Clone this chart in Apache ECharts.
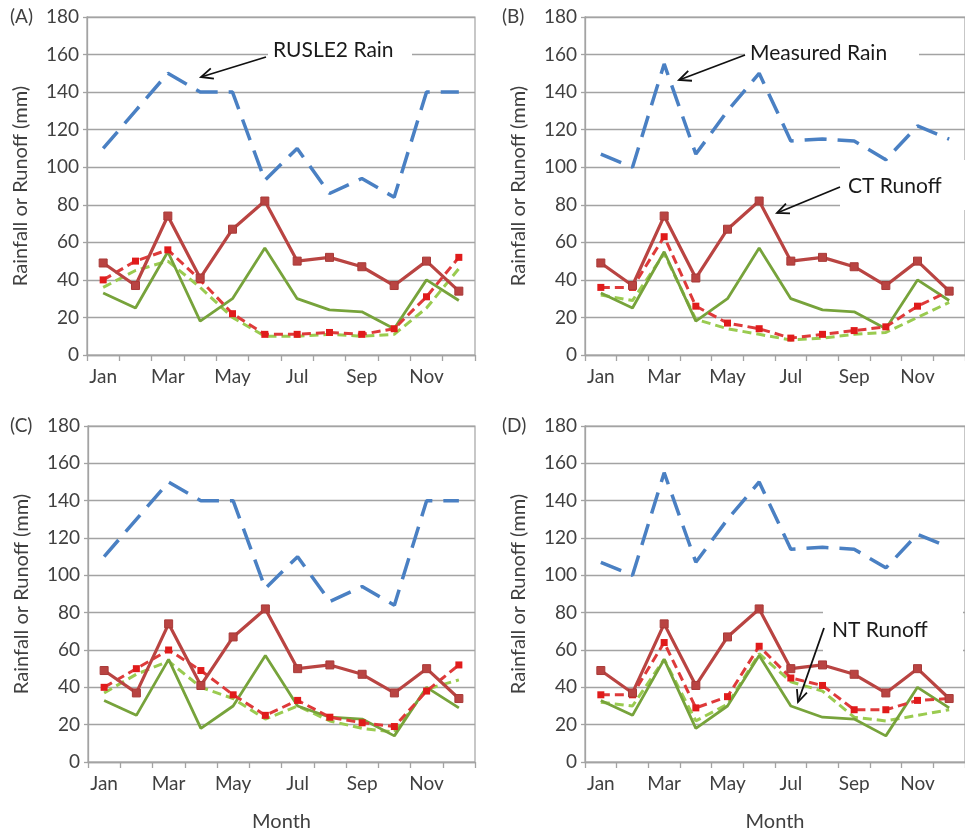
<!DOCTYPE html>
<html>
<head>
<meta charset="utf-8">
<script src="https://cdn.jsdelivr.net/npm/echarts@6/dist/echarts.min.js"></script>
<style>
  html, body { margin: 0; padding: 0; background: #ffffff; }
  #chart { width: 965px; height: 834px; }
</style>
</head>
<body>
<div id="chart"></div>
<script>
// Monthly rainfall and runoff, four panels (A)-(D)
const months = ['Jan', 'Feb', 'Mar', 'Apr', 'May', 'Jun', 'Jul', 'Aug', 'Sep', 'Oct', 'Nov', 'Dec'];
const yTicks = [0, 20, 40, 60, 80, 100, 120, 140, 160, 180];

// rainfall (mm)
const rusle2Rain = [110, 130, 150, 140, 140, 93, 110, 86, 94, 84, 140, 140];
const measuredRain = [107, 100, 155, 107, 130, 150, 114, 115, 114, 104, 122, 115];

// observed runoff (mm), same in every panel
const ctObserved = [49, 37, 74, 41, 67, 82, 50, 52, 47, 37, 50, 34];
const ntObserved = [33, 25, 55, 18, 30, 57, 30, 24, 23, 14, 40, 29];

// predicted runoff (mm) per panel
const ctPredA = [40, 50, 56, 40, 22, 11, 11, 12, 11, 14, 31, 52];
const ntPredA = [36, 45, 50, 36, 20, 10, 10, 11, 10, 11, 25, 46];
const ctPredB = [36, 36, 63, 26, 17, 14, 9, 11, 13, 15, 26, 34];
const ntPredB = [32, 29, 54, 19, 14, 11, 8, 9, 11, 12, 20, 28];
const ctPredC = [40, 50, 60, 49, 36, 25, 33, 24, 21, 19, 38, 52];
const ntPredC = [37, 47, 54, 40, 34, 23, 30, 22, 18, 16, 39, 44];
const ctPredD = [36, 36, 64, 29, 35, 62, 45, 41, 28, 28, 33, 34];
const ntPredD = [32, 30, 55, 22, 31, 58, 43, 38, 24, 22, 25, 28];

const panelLetters = ['(A)', '(B)', '(C)', '(D)'];
const panelRain = [rusle2Rain, measuredRain, rusle2Rain, measuredRain];
const panelCtPred = [ctPredA, ctPredB, ctPredC, ctPredD];
const panelNtPred = [ntPredA, ntPredB, ntPredC, ntPredD];

const FONT = 'Lato, "Open Sans", sans-serif';
const TEXT = '#404040';
const GRIDLINE = '#a3a3a3';

const BLUE = '#4a80c3';
const RED = '#b94442';
const RED_LIGHT = '#de3a3a';
const GREEN = '#77a33b';
const GREEN_LIGHT = '#9acb50';

const gridBoxes = [
  { left: 87, top: 17, width: 388, height: 338 },
  { left: 585, top: 17, width: 389, height: 338 },
  { left: 88, top: 426, width: 387, height: 336 },
  { left: 585, top: 426, width: 389, height: 336 }
];

const grids = [], xAxes = [], yAxes = [], series = [];

gridBoxes.forEach(function (box, i) {
  grids.push(Object.assign({
    show: true, borderColor: GRIDLINE, borderWidth: 1.2, backgroundColor: '#ffffff'
  }, box));

  xAxes.push({
    type: 'category', gridIndex: i, data: months, boundaryGap: true,
    axisLine: { lineStyle: { color: GRIDLINE, width: 1.3 } },
    axisTick: { show: true, interval: 0, length: 6, lineStyle: { color: GRIDLINE, width: 1.3 } },
    axisLabel: { interval: 1, color: TEXT, fontSize: 19, fontFamily: FONT, margin: 12 },
    name: i >= 2 ? 'Month' : '',
    nameLocation: 'middle', nameGap: 50,
    nameTextStyle: { color: TEXT, fontSize: 20, fontFamily: FONT }
  });

  yAxes.push({
    type: 'value', gridIndex: i,
    min: yTicks[0], max: yTicks[yTicks.length - 1], interval: yTicks[1] - yTicks[0],
    axisLine: { show: true, lineStyle: { color: GRIDLINE, width: 1.3 } },
    axisTick: { show: true, length: 4, lineStyle: { color: GRIDLINE, width: 1.3 } },
    splitLine: { show: true, lineStyle: { color: GRIDLINE, width: 1.3 } },
    axisLabel: { color: TEXT, fontSize: 19, fontFamily: FONT, margin: 8 },
    name: 'Rainfall or Runoff (mm)',
    nameLocation: 'middle', nameGap: 56,
    nameTextStyle: { color: TEXT, fontSize: 20, fontFamily: FONT }
  });

  const common = { xAxisIndex: i, yAxisIndex: i, type: 'line', silent: true };

  series.push(Object.assign({}, common, {
    name: 'Rain', data: panelRain[i], showSymbol: false, z: 6,
    lineStyle: { color: BLUE, width: 3.5, type: [22, 11], cap: 'butt' }
  }));
  series.push(Object.assign({}, common, {
    name: 'NT predicted', data: panelNtPred[i], showSymbol: false, z: 2,
    lineStyle: { color: GREEN_LIGHT, width: 3, type: [9, 5] }
  }));
  series.push(Object.assign({}, common, {
    name: 'NT observed', data: ntObserved, showSymbol: false, z: 3,
    lineStyle: { color: GREEN, width: 2.8 }
  }));
  series.push(Object.assign({}, common, {
    name: 'CT predicted', data: panelCtPred[i], symbol: 'rect', symbolSize: 7, z: 4,
    itemStyle: { color: '#e01b1b' },
    lineStyle: { color: RED_LIGHT, width: 3, type: [9, 5] }
  }));
  series.push(Object.assign({}, common, {
    name: 'CT observed', data: ctObserved, symbol: 'rect', symbolSize: 8, z: 5,
    itemStyle: { color: RED, borderColor: '#a83a38', borderWidth: 1 },
    lineStyle: { color: RED, width: 3.2 }
  }));
});

// arrow from a label towards a line
function arrow(x1, y1, x2, y2) {
  const ang = Math.atan2(y2 - y1, x2 - x1);
  const L = 13, spread = 0.42;
  const p1 = [x2 - L * Math.cos(ang - spread), y2 - L * Math.sin(ang - spread)];
  const p2 = [x2 - L * Math.cos(ang + spread), y2 - L * Math.sin(ang + spread)];
  return [
    { type: 'line', z: 20, shape: { x1: x1, y1: y1, x2: x2, y2: y2 },
      style: { stroke: '#111111', lineWidth: 1.8 } },
    { type: 'polyline', z: 20, shape: { points: [p1, [x2, y2], p2] },
      style: { stroke: '#111111', lineWidth: 1.8, fill: null } }
  ];
}

// label with a white backing that breaks the gridlines behind it
function callout(text, x, y, box) {
  return [
    { type: 'rect', z: 1, shape: box, style: { fill: '#ffffff' } },
    { type: 'text', z: 20, x: x, y: y,
      style: { text: text, font: '21px ' + FONT, fill: '#1a1a1a', textVerticalAlign: 'middle' } }
  ];
}

const graphics = [];
[[10, 17], [502, 17], [10, 426], [502, 426]].forEach(function (p, i) {
  graphics.push({ type: 'text', z: 20, x: p[0], y: p[1],
    style: { text: panelLetters[i], font: '19px ' + FONT, fill: TEXT, textVerticalAlign: 'middle' } });
});

Array.prototype.push.apply(graphics, callout('RUSLE2 Rain', 273, 50, { x: 268, y: 40, width: 144, height: 22 }));
Array.prototype.push.apply(graphics, arrow(266, 57, 201, 77));
Array.prototype.push.apply(graphics, callout('Measured Rain', 750, 53, { x: 745, y: 42, width: 174, height: 22 }));
Array.prototype.push.apply(graphics, arrow(745, 55, 679, 80));
Array.prototype.push.apply(graphics, callout('CT Runoff', 848, 186, { x: 840, y: 160, width: 125, height: 50 }));
Array.prototype.push.apply(graphics, arrow(840, 187, 777, 213));
Array.prototype.push.apply(graphics, callout('NT Runoff', 832, 630, { x: 823, y: 605, width: 140, height: 50 }));
Array.prototype.push.apply(graphics, arrow(824, 628, 798, 702));

const chart = echarts.init(document.getElementById('chart'), null, { renderer: 'canvas' });
chart.setOption({
  animation: false,
  backgroundColor: '#ffffff',
  textStyle: { fontFamily: FONT },
  grid: grids,
  xAxis: xAxes,
  yAxis: yAxes,
  series: series,
  graphic: { elements: graphics }
});
</script>
</body>
</html>
